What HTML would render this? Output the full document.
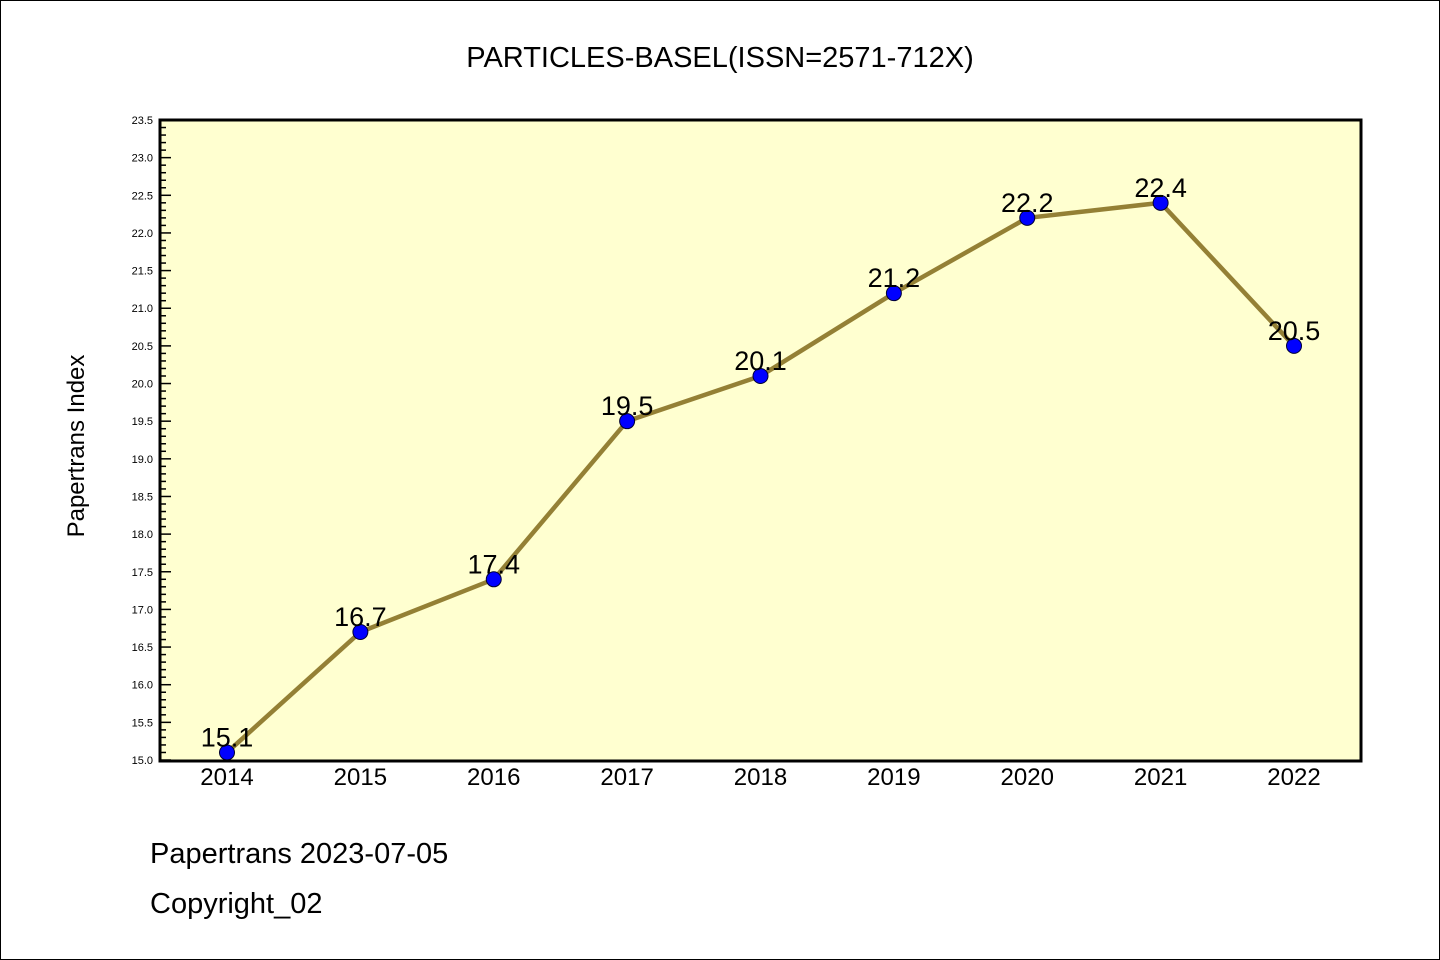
<!DOCTYPE html>
<html><head><meta charset="utf-8"><style>
html,body{margin:0;padding:0;background:#fff;}
svg{display:block;font-family:"Liberation Sans","WenQuanYi Zen Hei",sans-serif;}
</style></head><body>
<svg id="chart" width="1440" height="960" xmlns="http://www.w3.org/2000/svg">
<rect x="0.5" y="0.5" width="1439" height="959" fill="#fff" stroke="#000"/>
<text x="720" y="67" text-anchor="middle" font-size="29">PARTICLES-BASEL(ISSN=2571-712X)</text>
<rect x="160" y="120" width="1201" height="641" fill="#ffffd0"/>
<g id="yaxis"></g>
<g id="xaxis"></g>
<g id="series"></g>
<rect x="160" y="120" width="1201" height="641" fill="none" stroke="#000" stroke-width="3"/>
<text transform="translate(84,446) rotate(-90)" text-anchor="middle" font-size="24">Papertrans Index</text>
<text x="150" y="863" font-size="29">Papertrans 2023-07-05</text>
<text x="150" y="913" font-size="29">Copyright_02</text>
</svg>
<script>
const years = ["2014","2015","2016","2017","2018","2019","2020","2021","2022"];
const values = [15.1,16.7,17.4,19.5,20.1,21.2,22.2,22.4,20.5];
const yTicks = ["15.0","15.5","16.0","16.5","17.0","17.5","18.0","18.5","19.0","19.5","20.0","20.5","21.0","21.5","22.0","22.5","23.0","23.5"];
const NS="http://www.w3.org/2000/svg";
const yMin=15, yMax=23.5;
function yS(v){return 760+(v-yMin)/(yMax-yMin)*(120-760);}
function xS(i){return 227+i*(1294-227)/(years.length-1);}
function mk(tag,attrs,parent){const e=document.createElementNS(NS,tag);for(const k in attrs)e.setAttribute(k,attrs[k]);parent.appendChild(e);return e;}
const ya=document.getElementById('yaxis'),xa=document.getElementById('xaxis'),sg=document.getElementById('series');
for(let v=yMin;v<=yMax+1e-9;v+=0.1){
  const major=Math.abs(v*2-Math.round(v*2))<1e-6;
  const y=yS(v);
  const t=mk('line',{x1:160,x2:major?171:166,y1:y,y2:y,stroke:'#000','stroke-width':1.5},ya);
  
  
}
yTicks.forEach(s=>{
  const t=mk('text',{x:153,y:yS(parseFloat(s))+4,'text-anchor':'end','font-size':11},ya);
  t.textContent=s;
  
  
});
years.forEach((yr,i)=>{
  const t=mk('text',{x:xS(i),y:785,'text-anchor':'middle','font-size':24},xa);
  t.textContent=yr;
  
  
});
const pl=mk('polyline',{points:values.map((v,i)=>xS(i)+','+yS(v)).join(' '),fill:'none',stroke:'#948035','stroke-width':4.5},sg);


values.forEach((v,i)=>{
  const c=mk('circle',{cx:xS(i),cy:yS(v),r:7.5,fill:'#0000ff',stroke:'#000033','stroke-width':1},sg);
  
  
  const t=mk('text',{x:xS(i),y:yS(v)-6,'text-anchor':'middle','font-size':27},sg);
  t.textContent=v.toFixed(1);
  
  
});
</script>
</body></html>
